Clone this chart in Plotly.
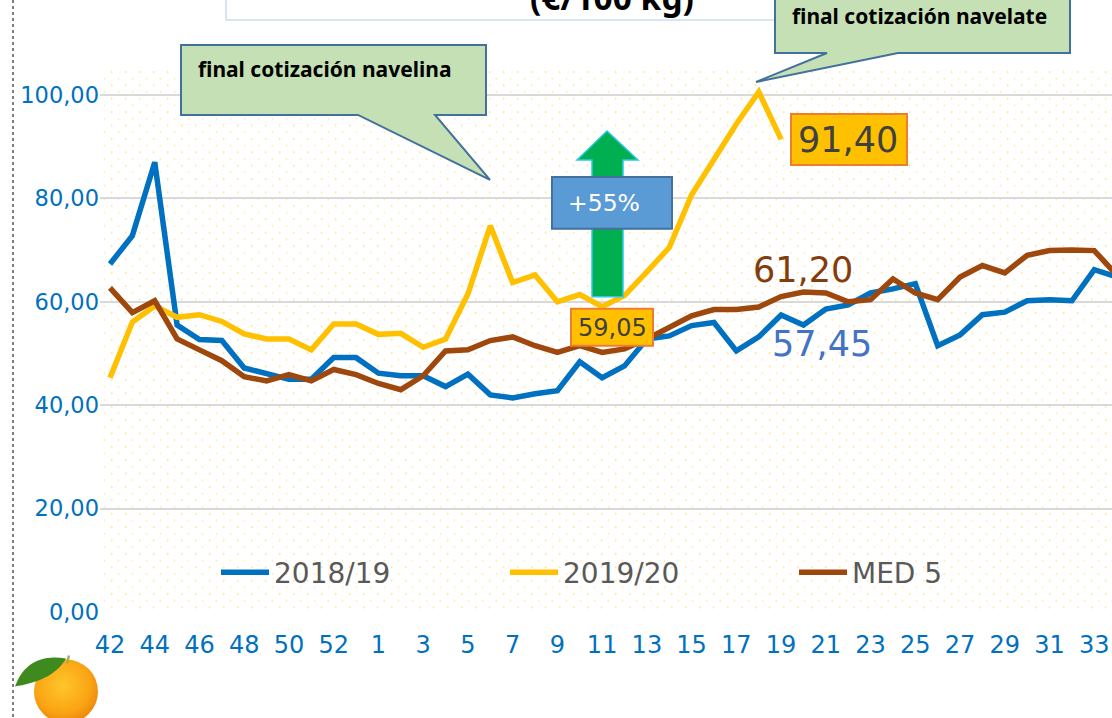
import base64
import plotly.graph_objects as go

weeks = [str(w) for w in list(range(42, 54)) + list(range(1, 35))]
tick_weeks = ["42","44","46","48","50","52","1","3","5","7","9","11","13","15","17","19","21","23","25","27","29","31","33"]
y_ticks = [0, 20, 40, 60, 80, 100]
y_labels = ["0,00", "20,00", "40,00", "60,00", "80,00", "100,00"]

s2018 = [67.3,72.8,87,55.5,52.7,52.5,47.2,46,45,45,49.2,49.2,46.2,45.7,45.7,43.6,46,42,41.4,42.2,42.8,48.4,45.3,47.6,
         52.8,53.4,55.4,56,50.5,53.2,57.45,55.5,58.6,59.4,61.7,62.5,63.5,51.5,53.6,57.5,58,60.2,60.4,60.2,66.2,64.8]
s2019 = [45.3,56.1,59.2,57,57.5,56.2,53.8,52.8,52.8,50.7,55.7,55.7,53.7,53.9,51.2,52.8,61.5,74.7,63.7,65.2,60,61.4,
         59.05,61.2,65.8,70.5,80.7,87.8,94.4,100.6,91.4]
med5 = [62.7,57.9,60.2,52.8,50.7,48.6,45.5,44.7,45.9,44.7,46.9,45.9,44.2,43,45.7,50.5,50.7,52.5,53.2,51.5,50.2,51.5,
        50.2,50.9,52.8,55,57.3,58.5,58.5,59,61,61.9,61.7,60,60.4,64.4,61.7,60.4,64.8,67,65.6,69,69.9,70,69.9,65.2]

W, H = 1112, 718
L, R, T, B = 100, 1112, 70, 612.5
FONT = "DejaVu Sans"
CAL = "Noto Sans"

def px(x): return (x - L) / (R - L)
def py(y): return (B - y) / (B - T)
def poly(points):
    return "M" + " L".join(f"{px(x):.5f},{py(y):.5f}" for x, y in points) + " Z"
def uri(svg): return "data:image/svg+xml;base64," + base64.b64encode(svg.encode()).decode()

dots = f'''<svg xmlns="http://www.w3.org/2000/svg" width="{R-103}" height="540">
<defs><pattern id="p" width="14" height="13.4" patternUnits="userSpaceOnUse">
<circle cx="8.7" cy="2" r="1" fill="#FFE699"/><circle cx="1.5" cy="8.7" r="1" fill="#FFEDB8"/></pattern></defs>
<rect width="100%" height="100%" fill="url(#p)"/></svg>'''

orange = '''<svg xmlns="http://www.w3.org/2000/svg" width="90" height="70" viewBox="0 0 90 70">
<defs><radialGradient id="g" cx="45%" cy="40%" r="60%"><stop offset="0" stop-color="#FFC62B"/><stop offset="0.7" stop-color="#FBA514"/>
<stop offset="1" stop-color="#EE8A0C"/></radialGradient></defs>
<circle cx="52" cy="37" r="32" fill="url(#g)"/>
<path d="M53 9 L55 1" stroke="#A3AE55" stroke-width="2.5" fill="none"/>
<path d="M1 32 C8 12 24 -1 52 4 C42 22 20 29 1 32 Z" fill="#3F8A1E"/></svg>'''

fig = go.Figure()
for name, vals, col in [("2018/19", s2018, "#0070C0"), ("2019/20", s2019, "#FFC000"), ("MED 5", med5, "#9E480E")]:
    fig.add_trace(go.Scatter(x=weeks[:len(vals)], y=vals, name=name, mode="lines",
                             line=dict(color=col, width=5.5), hoverinfo="skip"))

green, gborder = "#C5E0B4", "#41719C"
shapes = [
    dict(type="rect", x0=px(226), x1=px(780), y0=py(-10), y1=py(20), line=dict(color="#D6E6F5", width=2), fillcolor="white"),
    dict(type="line", x0=px(13), x1=px(13), y0=py(0), y1=py(718), line=dict(color="#7F7F7F", width=2, dash="dot")),
    dict(type="path", path=poly([(181,45),(486,45),(486,115),(435,115),(490,180),(358,115),(181,115)]),
         fillcolor=green, line=dict(color=gborder, width=2)),
    dict(type="path", path=poly([(775,-10),(1070,-10),(1070,53),(898,53),(756,82),(827,53),(775,53)]),
         fillcolor=green, line=dict(color=gborder, width=2)),
    dict(type="path", path=poly([(607,131),(638,160),(623,160),(623,297),(592,297),(592,160),(577,160)]),
         fillcolor="#00B050", line=dict(color="#2FC6E8", width=1.5)),
    dict(type="rect", x0=px(552), x1=px(672), y0=py(177), y1=py(229), fillcolor="#5B9BD5", line=dict(color="#41719C", width=2)),
    dict(type="rect", x0=px(791), x1=px(907), y0=py(114), y1=py(165), fillcolor="#FFC000", line=dict(color="#ED7D31", width=2)),
    dict(type="rect", x0=px(571), x1=px(653), y0=py(309), y1=py(346), fillcolor="#FFC000", line=dict(color="#ED7D31", width=2)),
]
for s in shapes:
    s.update(xref="paper", yref="paper", layer="above")

def note(text, x, y, size, color, family=FONT, anchor="center", bold=False):
    return dict(text=f"<b>{text}</b>" if bold else text, x=px(x), y=py(y), xref="paper", yref="paper", xanchor=anchor, yanchor="middle",
                showarrow=False, font=dict(size=size, color=color, family=family))

annotations = [
    note("(€/100 kg)", 612, -3, 33.5, "#000000", CAL, bold=True),
    note("final cotización navelina", 196, 69, 21, "#000000", CAL, "left", True),
    note("final cotización navelate", 790, 16, 21, "#000000", CAL, "left", True),
    note("+55%", 604, 203, 23.5, "#FFFFFF"),
    note("91,40", 848, 140, 35, "#404040"),
    note("59,05", 612, 328, 24, "#404040"),
    note("61,20", 803, 270, 35, "#843C0C"),
    note("57,45", 822, 344, 35, "#4472C4"),
]

images = [
    dict(source=uri(dots), xref="paper", yref="paper", x=px(103), y=py(70), sizex=px(R)-px(103), sizey=py(70)-py(610),
         xanchor="left", yanchor="top", sizing="stretch", layer="below"),
    dict(source=uri(orange), xref="paper", yref="paper", x=px(14), y=py(655), sizex=90/(R-L), sizey=70/(B-T),
         xanchor="left", yanchor="top", sizing="stretch", layer="above"),
]

step = 22.37
fig.update_layout(
    width=W, height=H, autosize=False, margin=dict(l=L, r=W-R, t=T, b=H-B),
    paper_bgcolor="white", plot_bgcolor="rgba(0,0,0,0)", shapes=shapes, annotations=annotations, images=images,
    xaxis=dict(type="category", categoryorder="array", categoryarray=weeks, range=[(L-110)/step, (R-110)/step],
               tickmode="array", tickvals=tick_weeks, ticktext=tick_weeks, showgrid=False, zeroline=False,
               showline=False, ticks="outside", tickcolor="rgba(0,0,0,0)", ticklen=11, tickangle=0,
               tickfont=dict(size=24, color="#0070C0", family=FONT)),
    yaxis=dict(range=[0, (B-T)/5.175], tickmode="array", tickvals=y_ticks, ticktext=y_labels, showgrid=True,
               gridcolor="#D9D9D9", gridwidth=2, zeroline=False, showline=False, ticks="",
               tickfont=dict(size=22.5, color="#0070C0", family=FONT)),
    legend=dict(orientation="h", x=px(216), y=py(548), xanchor="left", yanchor="top", bgcolor="rgba(0,0,0,0)",
                itemwidth=48, entrywidth=226, entrywidthmode="pixels", traceorder="normal",
                font=dict(size=28, color="#595959", family=FONT)),
)
fig.write_html("out.html", config={"displayModeBar": False},
               post_script="document.body.style.margin='0';document.documentElement.style.overflow='hidden';")
